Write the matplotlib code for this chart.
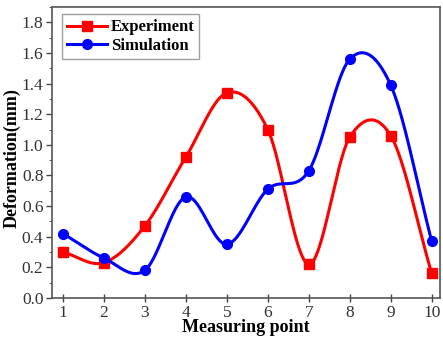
import numpy as np
import matplotlib
matplotlib.use("Agg")
import matplotlib.pyplot as plt
from matplotlib.ticker import MultipleLocator, FormatStrFormatter

plt.rcParams['font.family'] = ['Liberation Serif', 'DejaVu Serif']

points = [1, 2, 3, 4, 5, 6, 7, 8, 9, 10]
experiment = [0.30, 0.23, 0.47, 0.92, 1.34, 1.10, 0.22, 1.05, 1.06, 0.16]
simulation = [0.42, 0.26, 0.18, 0.66, 0.35, 0.71, 0.83, 1.56, 1.39, 0.37]


def smooth_line(x, y, n=40):
    # Catmull-Rom style cubic through the points, only for the drawn line
    x = np.asarray(x, float)
    y = np.asarray(y, float)
    m = np.gradient(y, x)
    xs_all, ys_all = [], []
    for i in range(len(x) - 1):
        h = x[i + 1] - x[i]
        t = np.linspace(0, 1, n)
        h00 = 2 * t**3 - 3 * t**2 + 1
        h10 = t**3 - 2 * t**2 + t
        h01 = -2 * t**3 + 3 * t**2
        h11 = t**3 - t**2
        xs_all.append(x[i] + t * h)
        ys_all.append(h00 * y[i] + h10 * h * m[i] + h01 * y[i + 1] + h11 * h * m[i + 1])
    return np.concatenate(xs_all), np.concatenate(ys_all)


fig = plt.figure(figsize=(4.43, 3.40), dpi=100)
ax = fig.add_axes([0.117, 0.124, 0.876, 0.855])

for vals, col, mk, lab in [(experiment, 'red', 's', 'Experiment'),
                           (simulation, 'blue', 'o', 'Simulation')]:
    xs, ys = smooth_line(points, vals)
    ax.plot(xs, ys, color=col, lw=2.2)
    ax.plot(points, vals, ls='none', marker=mk, color=col, ms=7)
    ax.plot([], [], color=col, lw=2.2, marker=mk, ms=7, label=lab)

ax.set_xlim(0.73, 10.2)
ax.set_ylim(0, 1.9)
ax.set_xticks(points)
ax.set_yticks(np.arange(0, 1.81, 0.2))
ax.yaxis.set_minor_locator(MultipleLocator(0.1))
ax.yaxis.set_major_formatter(FormatStrFormatter('%.1f'))
ax.tick_params(axis='both', labelsize=12.5, labelcolor='#333333', color='#444444',
               width=1)
ax.tick_params(axis='x', direction='inout', length=6, pad=2)
ax.tick_params(axis='y', direction='out', length=4, pad=2)
ax.tick_params(axis='y', which='minor', direction='out', length=2, color='#444444')
for s in ax.spines.values():
    s.set_color('#555555')
    s.set_linewidth(1.2)

ax.set_xlabel('Measuring point', fontsize=13, fontweight='bold', labelpad=-1)
ax.set_ylabel('Deformation(mm)', fontsize=13, fontweight='bold')
ax.yaxis.set_label_coords(-0.081, 0.48)

leg = ax.legend(loc='upper left', bbox_to_anchor=(0.027, 0.975), fancybox=False,
                edgecolor='#888888', prop={'weight': 'bold', 'size': 12},
                handlelength=2.4, handletextpad=0.2, borderpad=0.3,
                labelspacing=0.15, borderaxespad=0)
leg.get_frame().set_linewidth(1)

fig.savefig('out.png', dpi=100)
